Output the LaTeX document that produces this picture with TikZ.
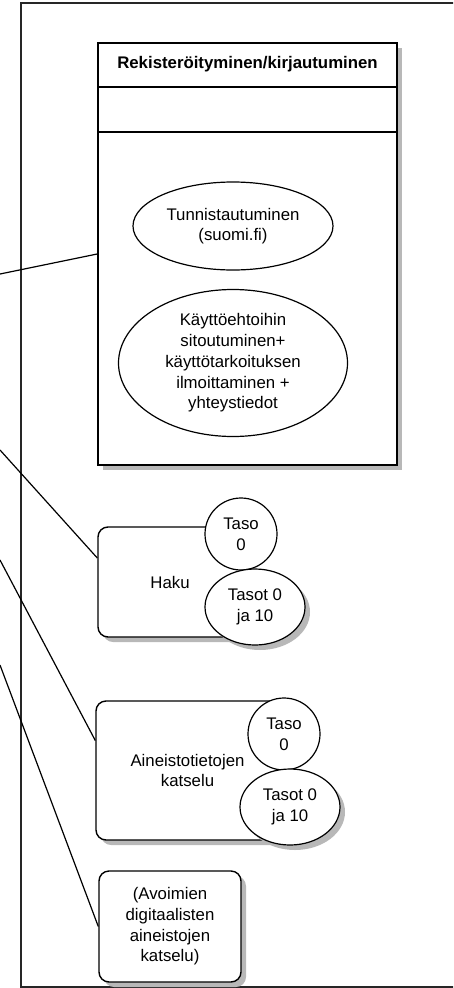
\documentclass[tikz,border=0pt]{standalone}
\usepackage{fontspec}
\setmainfont{Liberation Sans}
\usetikzlibrary{shapes.geometric}
\usetikzlibrary{shadows}
\usetikzlibrary{positioning}
\definecolor{cshade}{rgb}{0.72, 0.72, 0.72}

\begin{document}
\begin{tikzpicture}[x=1pt, y=-1pt,
    every node/.style={font=\fontsize{16.8}{20.7}\selectfont, align=center, inner sep=0pt},
    shade/.style={drop shadow={fill=cshade, opacity=1, shadow xshift=5pt, shadow yshift=-5pt}},
    usecase/.style={ellipse, draw, line width=1.2pt, fill=white},
    level/.style={ellipse, draw, line width=1.2pt, fill=white},
    feature/.style={rectangle, rounded corners=10pt, draw, line width=1.4pt, fill=white}]
  \useasboundingbox (0, 0) rectangle (453, 988);
  \clip (0, 0) rectangle (453, 988);

  \draw [line width=1.3pt, black!85] (21, 3) rectangle (470, 987);

  \node (reg) at (247.5, 254) [draw, line width=1.7pt, fill=white, shade, minimum width=299, minimum height=422] {};
  \draw [line width=1.7pt] ([yshift=-45pt]reg.north west) -- ([yshift=-45pt]reg.north east);
  \draw [line width=1.7pt] ([yshift=-90pt]reg.north west) -- ([yshift=-90pt]reg.north east);
  \node (regtitle) at ([yshift=-22.5pt]reg.north) {\bfseries Rekisteröityminen/kirjautuminen};

  \node (tunn) at (233, 226) [usecase, minimum width=200, minimum height=88] {Tunnistautuminen\\(suomi.fi)};
  \node (ehdot) at (233, 363) [usecase, minimum width=229, minimum height=147]
    {Käyttöehtoihin\\sitoutuminen+\\käyttötarkoituksen\\ilmoittaminen +\\yhteystiedot};

  \node (haku) at (170, 582) [feature, shade, minimum width=144, minimum height=110] {Haku};
  \node (hakutaso) at (241, 534) [level, minimum width=72, minimum height=72] {Taso\\0};
  \node (hakutasot) at (255, 607) [level, shade, minimum width=100, minimum height=76] {Tasot 0\\ja 10};

  \node (ain) at (187.5, 770.5) [feature, shade, minimum width=183, minimum height=139] {Aineistotietojen\\katselu};
  \node (aintaso) at (284, 734) [level, minimum width=72, minimum height=72] {Taso\\0};
  \node (aintasot) at (290, 807) [level, shade, minimum width=100, minimum height=76] {Tasot 0\\ja 10};

  \node (avoin) at (170, 926.5) [feature, shade, minimum width=142, minimum height=111]
    {(Avoimien\\digitaalisten\\aineistojen\\katselu)};

  \coordinate (in1) at (0, 274);
  \coordinate (in2) at (0, 450);
  \coordinate (in3) at (0, 560);
  \coordinate (in4) at (0, 665);
  \draw [line width=1.2pt] (in1) -- (reg.west);
  \draw [line width=1.2pt] (in2) -- ([yshift=24pt]haku.west);
  \draw [line width=1.2pt] (in3) -- ([yshift=30pt]ain.west);
  \draw [line width=1.2pt] (in4) -- (avoin.west);
\end{tikzpicture}
\end{document}
